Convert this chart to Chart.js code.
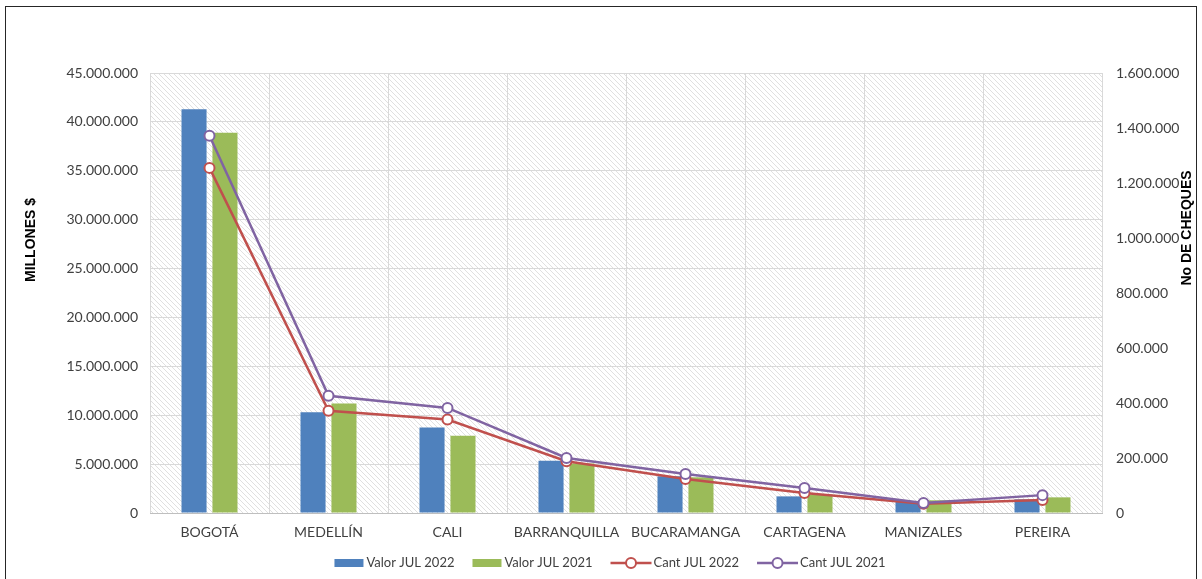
<!DOCTYPE html>
<html lang="es">
<head>
<meta charset="utf-8">
<title>Cheques por ciudad JUL 2022 vs JUL 2021</title>
<script src="https://cdn.jsdelivr.net/npm/chart.js@4.4.1/dist/chart.umd.min.js"></script>
<style>
  html, body { margin: 0; padding: 0; background: #fff; }
  #wrap { position: relative; width: 1202px; height: 579px; }
</style>
</head>
<body>
<div id="wrap"><canvas id="chart"></canvas></div>
<script>
// datos
const ciudades = ['BOGOTÁ', 'MEDELLÍN', 'CALI', 'BARRANQUILLA', 'BUCARAMANGA', 'CARTAGENA', 'MANIZALES', 'PEREIRA'];
const valor2022 = [41300000, 10300000, 8750000, 5350000, 3750000, 1700000, 1200000, 1400000];
const valor2021 = [38900000, 11200000, 7900000, 5050000, 3650000, 1900000, 1300000, 1600000];
const cant2022 = [1255000, 372000, 340000, 188000, 124000, 73000, 34000, 47000];
const cant2021 = [1372000, 426000, 382000, 200000, 142000, 91000, 36000, 65000];

const FONT = 'Lato, "Open Sans", sans-serif';
const TXT = '#404040';

function miles(v) {
  return String(Math.round(v)).replace(/\B(?=(\d{3})+(?!\d))/g, '.');
}

// fondo rayado del area de trazado
function hatch() {
  const c = document.createElement('canvas');
  c.width = 5; c.height = 5;
  const g = c.getContext('2d');
  g.fillStyle = '#ffffff';
  g.fillRect(0, 0, 5, 5);
  g.strokeStyle = '#e0e0e0';
  g.lineWidth = 1;
  g.beginPath();
  g.moveTo(-1, -1); g.lineTo(6, 6);
  g.moveTo(-1, 4); g.lineTo(1, 6);
  g.moveTo(4, -1); g.lineTo(6, 1);
  g.stroke();
  return c;
}

const fondo = {
  id: 'fondo',
  beforeDraw(chart) {
    const { ctx, chartArea: a } = chart;
    ctx.save();
    ctx.fillStyle = ctx.createPattern(hatch(), 'repeat');
    ctx.fillRect(a.left, a.top, a.right - a.left, a.bottom - a.top);
    ctx.restore();
  },
  afterDraw(chart) {
    const ctx = chart.ctx;
    ctx.save();
    // marco
    ctx.strokeStyle = '#262626';
    ctx.lineWidth = 1;
    ctx.strokeRect(5.5, 6.5, 1191, 600);
    // titulos de ejes
    ctx.fillStyle = '#000';
    ctx.font = 'bold 14px "Liberation Sans", Arial, sans-serif';
    ctx.textAlign = 'center';
    ctx.textBaseline = 'middle';
    ctx.translate(31, 240);
    ctx.rotate(-Math.PI / 2);
    ctx.fillText('MILLONES $', 0, 0);
    ctx.restore();
    ctx.save();
    ctx.fillStyle = '#000';
    ctx.font = 'bold 14px "Liberation Sans", Arial, sans-serif';
    ctx.textAlign = 'center';
    ctx.textBaseline = 'middle';
    ctx.translate(1187, 228);
    ctx.rotate(-Math.PI / 2);
    ctx.fillText('No DE CHEQUES', 0, 0);
    ctx.restore();

    // leyenda
    ctx.save();
    ctx.font = '13px ' + FONT;
    ctx.textBaseline = 'middle';
    const y = 563;
    const items = chart.data.datasets.map(d => ({
      label: d.label, color: d.borderColor || d.backgroundColor, line: d.type === 'line',
      w: (d.type === 'line' ? 41 + 2 : 29 + 3) + ctx.measureText(d.label).width
    }));
    const gap = 18;
    const total = items.reduce((s, it) => s + it.w, 0) + gap * (items.length - 1);
    let x = 610 - total / 2;
    items.forEach(it => {
      if (it.line) {
        ctx.strokeStyle = it.color;
        ctx.lineWidth = 2.5;
        ctx.beginPath();
        ctx.moveTo(x, y); ctx.lineTo(x + 41, y);
        ctx.stroke();
        ctx.beginPath();
        ctx.arc(x + 20.5, y, 5, 0, Math.PI * 2);
        ctx.fillStyle = '#fff';
        ctx.fill();
        ctx.lineWidth = 2;
        ctx.stroke();
        ctx.fillStyle = TXT;
        ctx.fillText(it.label, x + 43, y);
      } else {
        ctx.fillStyle = it.color;
        ctx.fillRect(x, y - 4, 29, 8);
        ctx.fillStyle = TXT;
        ctx.fillText(it.label, x + 32, y);
      }
      x += it.w + gap;
    });
    ctx.restore();
  }
};

new Chart(document.getElementById('chart'), {
  data: {
    labels: ciudades,
    datasets: [
      { type: 'bar', label: 'Valor JUL 2022', data: valor2022, backgroundColor: '#4F81BD', yAxisID: 'y', order: 2,
        categoryPercentage: 0.52, barPercentage: 0.81 },
      { type: 'bar', label: 'Valor JUL 2021', data: valor2021, backgroundColor: '#9BBB59', yAxisID: 'y', order: 2,
        categoryPercentage: 0.52, barPercentage: 0.81 },
      { type: 'line', label: 'Cant JUL 2022', data: cant2022, borderColor: '#C0504D', backgroundColor: '#fff',
        yAxisID: 'y1', order: 1, borderWidth: 2.5, tension: 0, pointRadius: 5, pointBorderWidth: 2,
        pointBackgroundColor: '#fff', pointBorderColor: '#C0504D' },
      { type: 'line', label: 'Cant JUL 2021', data: cant2021, borderColor: '#8064A2', backgroundColor: '#fff',
        yAxisID: 'y1', order: 0, borderWidth: 2.5, tension: 0, pointRadius: 5, pointBorderWidth: 2,
        pointBackgroundColor: '#fff', pointBorderColor: '#8064A2' }
    ]
  },
  options: {
    responsive: true,
    maintainAspectRatio: false,
    animation: false,
    layout: { padding: { top: 73, left: 0, right: 0, bottom: 0 } },
    plugins: { legend: { display: false }, tooltip: { enabled: false } },
    scales: {
      x: {
        offset: true,
        afterFit(s) { s.height = 66; },
        grid: { color: '#d9d9d9', offset: true, drawTicks: false },
        border: { color: '#bfbfbf' },
        ticks: { color: TXT, font: { family: FONT, size: 14 }, padding: 11, maxRotation: 0, autoSkip: false }
      },
      y: {
        position: 'left',
        min: 0, max: 45000000,
        afterFit(s) { s.width = 150; },
        grid: { color: '#d9d9d9', drawTicks: false },
        border: { display: false },
        ticks: { stepSize: 5000000, color: TXT, font: { family: FONT, size: 14 }, padding: 12, callback: v => miles(v) }
      },
      y1: {
        position: 'right',
        min: 0, max: 1600000,
        afterFit(s) { s.width = 100; },
        grid: { display: false, drawTicks: false },
        border: { display: false },
        ticks: { stepSize: 200000, color: TXT, font: { family: FONT, size: 14 }, padding: 14, callback: v => miles(v) }
      }
    }
  },
  plugins: [fondo]
});
</script>
</body>
</html>
